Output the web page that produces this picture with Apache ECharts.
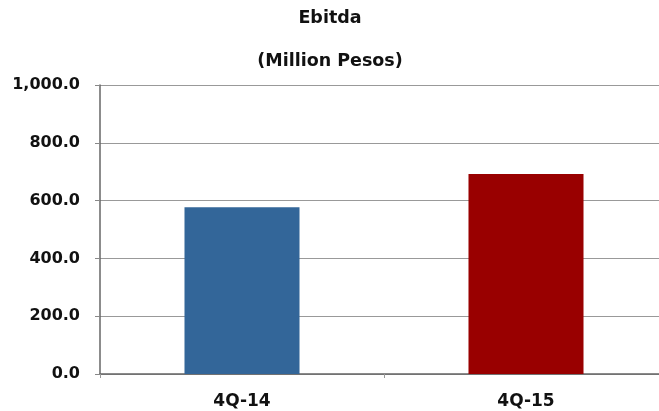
<!DOCTYPE html>
<html><head><meta charset="utf-8">
<script src="https://cdn.jsdelivr.net/npm/echarts@6/dist/echarts.min.js"></script>
<style>html,body{margin:0;padding:0;background:#fff;overflow:hidden;width:659px;height:411px}#c{width:668px;height:411px}</style>
</head><body><div id="c"></div>
<script>
const categories = ['4Q-14', '4Q-15'];
const values = [577, 692];
const barColors = ['#336699', '#990000'];
const yTicks = [0, 200, 400, 600, 800, 1000];
const titleLines = ['Ebitda', '(Million Pesos)'];

const FONT = 'DejaVu Sans';
const chart = echarts.init(document.getElementById('c'), null, {renderer: 'canvas'});
chart.setOption({
  animation: false,
  graphic: titleLines.map((t, i) => ({
    type: 'text', x: 330, y: i === 0 ? 18 : 61,
    style: {text: t, fontFamily: FONT, fontWeight: 'bold', fontSize: 17.5, fill: '#111', align: 'center', verticalAlign: 'middle'}
  })),
  grid: {left: 100, top: 85, right: 0, height: 289, containLabel: false},
  xAxis: {
    type: 'category', data: categories,
    axisLine: {lineStyle: {color: '#666', width: 1.5}},
    axisTick: {show: true, alignWithLabel: false, length: 4, lineStyle: {color: '#999'}},
    axisLabel: {fontFamily: FONT, fontWeight: 'bold', fontSize: 17, color: '#111', margin: 19}
  },
  yAxis: {
    type: 'value', min: yTicks[0], max: yTicks[yTicks.length - 1], interval: 200,
    axisLine: {show: true, lineStyle: {color: '#666', width: 1.5}},
    axisTick: {show: true, length: 5, lineStyle: {color: '#888'}},
    splitLine: {lineStyle: {color: '#999', width: 1}},
    axisLabel: {fontFamily: FONT, fontWeight: 'bold', fontSize: 16, color: '#111', margin: 20,
      formatter: v => v.toLocaleString('en-US', {minimumFractionDigits: 1, maximumFractionDigits: 1})}
  },
  series: [{
    type: 'bar', barWidth: '40.5%',
    data: values.map((v, i) => ({value: v, itemStyle: {color: barColors[i]}}))
  }]
});
</script></body></html>
